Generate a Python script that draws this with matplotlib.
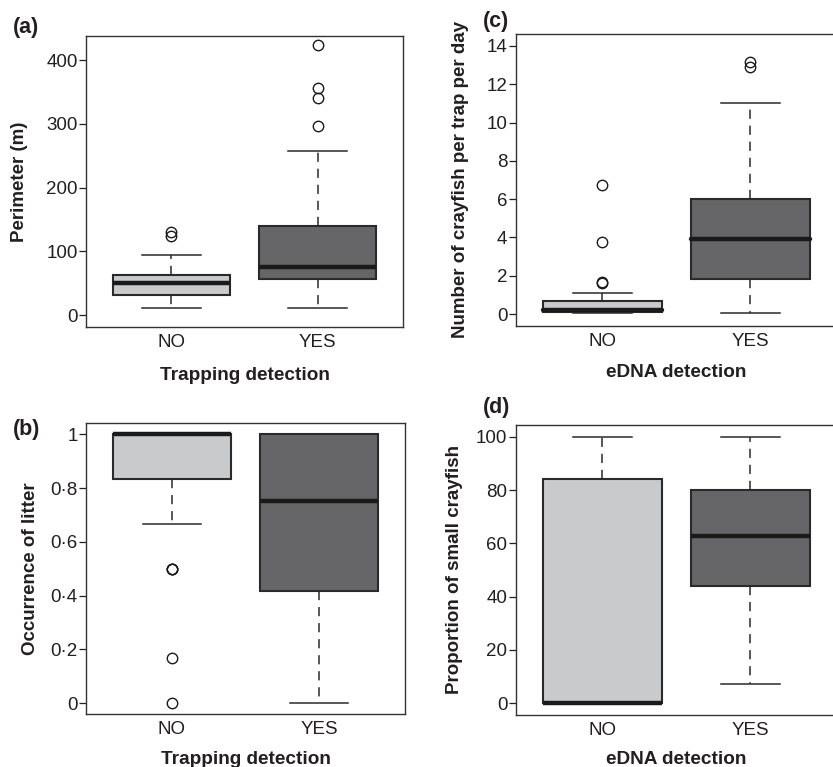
import matplotlib
matplotlib.use('Agg')
import matplotlib.pyplot as plt

plt.rcParams['font.family'] = ['Liberation Sans', 'DejaVu Sans']

groups = ['NO', 'YES']

# (a) Perimeter (m) ~ trapping detection
a_whislo = [11, 11]
a_q1 = [31, 56]
a_med = [51, 76]
a_q3 = [63, 140]
a_whishi = [94, 257]
a_fliers = [[124, 130], [297, 340, 357, 424]]
a_ticks = [0, 100, 200, 300, 400]
a_ticklabels = ['0', '100', '200', '300', '400']

# (b) Occurrence of litter ~ trapping detection
b_whislo = [0.667, 0.0]
b_q1 = [0.835, 0.418]
b_med = [1.0, 0.752]
b_q3 = [1.0, 1.0]
b_whishi = [1.0, 1.0]
b_fliers = [[0.5, 0.5, 0.5, 0.167, 0.0], []]
b_ticks = [0, 0.2, 0.4, 0.6, 0.8, 1.0]
b_ticklabels = ['0', '0·2', '0·4', '0·6', '0·8', '1']

# (c) Number of crayfish per trap per day ~ eDNA detection
c_whislo = [0.05, 0.07]
c_q1 = [0.1, 1.81]
c_med = [0.2, 3.9]
c_q3 = [0.7, 6.0]
c_whishi = [1.08, 11.0]
c_fliers = [[1.63, 1.67, 3.75, 6.74], [12.9, 13.18]]
c_ticks = [0, 2, 4, 6, 8, 10, 12, 14]
c_ticklabels = ['0', '2', '4', '6', '8', '10', '12', '14']

# (d) Proportion of small crayfish ~ eDNA detection
d_whislo = [0, 7.2]
d_q1 = [0, 44.1]
d_med = [0, 62.9]
d_q3 = [84.1, 80.1]
d_whishi = [100, 100]
d_fliers = [[], []]
d_ticks = [0, 20, 40, 60, 80, 100]
d_ticklabels = ['0', '20', '40', '60', '80', '100']

box_colors = ['#c9cacc', '#666567']
txt = '#231f20'
edge = '#2a2a2a'

W, H = 833, 767
fig = plt.figure(figsize=(W / 100, H / 100), dpi=100)


def rect(left, right, top, bottom):
    return [left / W, 1 - bottom / H, (right - left) / W, (bottom - top) / H]


def panel(r, whislo, q1, med, q3, whishi, fliers, ticks, ticklabels, ylim,
          ylabel, xlabel, ylab_x, xlab_y, capstyle='butt'):
    ax = fig.add_axes(r)
    stats = []
    for i, g in enumerate(groups):
        stats.append(dict(label=g, whislo=whislo[i], q1=q1[i], med=med[i],
                          q3=q3[i], whishi=whishi[i], fliers=fliers[i]))
    res = ax.bxp(stats, positions=[1, 2], widths=0.8, capwidths=0.4,
                 patch_artist=True, showfliers=True,
                 boxprops=dict(edgecolor=edge, linewidth=1.5),
                 whiskerprops=dict(color=edge, linewidth=1.1,
                                   linestyle=(0, (6, 4.5))),
                 capprops=dict(color=edge, linewidth=1.1),
                 medianprops=dict(color='#1a1a1a', linewidth=3.2,
                                  solid_capstyle=capstyle),
                 flierprops=dict(marker='o', markerfacecolor='none',
                                 markeredgecolor='#1a1a1a', markersize=7.5,
                                 markeredgewidth=1.0, linestyle='none'))
    for p, c in zip(res['boxes'], box_colors):
        p.set_facecolor(c)
    ax.set_xlim(0.415, 2.585)
    ax.set_ylim(*ylim)
    ax.set_yticks(ticks)
    ax.set_yticklabels(ticklabels)
    ax.set_xticks([1, 2])
    ax.set_xticklabels(groups)
    ax.tick_params(axis='y', length=5, width=0.9, pad=1, labelsize=13.5,
                   colors=txt)
    ax.tick_params(axis='x', length=0, pad=5, labelsize=13.5, colors=txt)
    for s in ax.spines.values():
        s.set_linewidth(1.0)
        s.set_color('#333333')
    ax.set_ylabel(ylabel, fontsize=13.5, fontweight='bold', color=txt)
    ax.yaxis.set_label_coords(ylab_x, 0.5)
    ax.yaxis.label.set_va('center')
    ax.set_xlabel(xlabel, fontsize=13.7, fontweight='bold', color=txt)
    ax.xaxis.set_label_coords(0.5, xlab_y)
    ax.xaxis.label.set_va('center')
    return ax


panel(rect(86, 403, 36, 327), a_whislo, a_q1, a_med, a_q3, a_whishi, a_fliers,
      a_ticks, a_ticklabels, (-18.8, 438), 'Perimeter (m)',
      'Trapping detection', -0.211, -0.165)
panel(rect(86, 405, 423.3, 714.3), b_whislo, b_q1, b_med, b_q3, b_whishi,
      b_fliers, b_ticks, b_ticklabels, (-0.042, 1.041),
      'Occurrence of litter', 'Trapping detection', -0.1755, -0.157)
panel(rect(515.7, 837, 33.7, 325.7), c_whislo, c_q1, c_med, c_q3, c_whishi,
      c_fliers, c_ticks, c_ticklabels, (-0.61, 14.64),
      'Number of crayfish per trap per day', 'eDNA detection', -0.173,
      -0.1586, capstyle='round')
panel(rect(515.7, 837, 425, 714.7), d_whislo, d_q1, d_med, d_q3, d_whishi,
      d_fliers, d_ticks, d_ticklabels, (-4.27, 104.4),
      'Proportion of small crayfish', 'eDNA detection', -0.192, -0.156)

for lab, x, y in [('(a)', 12.7, 28), ('(b)', 12.7, 430), ('(c)', 483, 22),
                  ('(d)', 483, 407)]:
    fig.text(x / W, 1 - y / H, lab, fontsize=15.5, fontweight='bold',
             color=txt, ha='left', va='center')

fig.savefig('out.png', dpi=100)
